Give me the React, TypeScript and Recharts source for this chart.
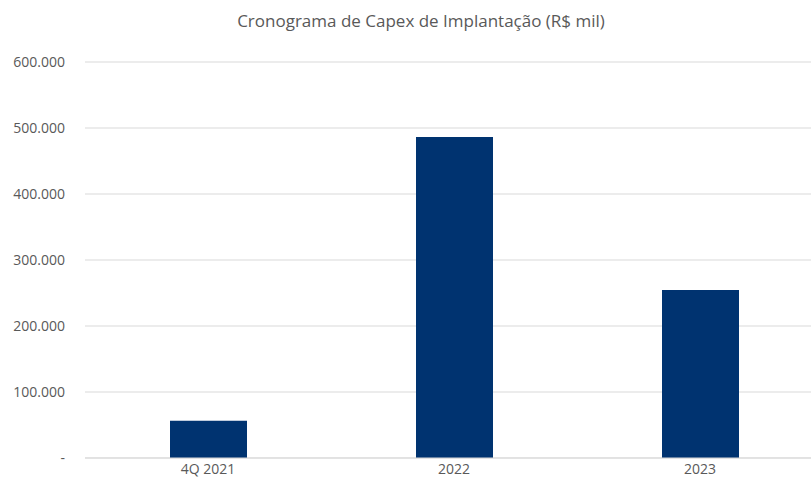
import { BarChart, Bar, XAxis, YAxis, CartesianGrid } from "recharts"

const categories = ["4Q 2021", "2022", "2023"]
const capex = [56500, 486500, 254500]
const yTicks = [0, 100000, 200000, 300000, 400000, 500000, 600000]
const title = "Cronograma de Capex de Implantação (R$ mil)"

const data = categories.map((c, i) => ({ periodo: c, capex: capex[i] }))

const fmt = (v: number) =>
  v === 0 ? "-" : String(v).replace(/\B(?=(\d{3})+(?!\d))/g, ".")

const font = "'Open Sans', sans-serif"

export default function App() {
  return (
    <div
      style={{
        position: "absolute",
        left: 0,
        top: 0,
        width: 811,
        height: 488,
        overflow: "hidden",
        background: "#fff",
        fontFamily: font,
      }}
    >
      <div
        style={{
          position: "absolute",
          left: 0,
          width: 842,
          top: 9,
          textAlign: "center",
          fontSize: 17,
          color: "#595959",
          whiteSpace: "nowrap",
        }}
      >
        {title}
      </div>
      <BarChart
        width={823}
        height={488}
        data={data}
        margin={{ top: 62, right: 0, bottom: 0, left: 0 }}
        barSize={77}
      >
        <CartesianGrid vertical={false} stroke="#d9d9d9" strokeWidth={1} />
        <XAxis
          dataKey="periodo"
          height={30}
          axisLine={{ stroke: "#d9d9d9" }}
          tickLine={false}
          tickSize={0}
          tickMargin={6}
          tick={{ fill: "#595959", fontSize: 14, fontFamily: font }}
        />
        <YAxis
          width={85}
          domain={[0, 600000]}
          ticks={yTicks}
          tickFormatter={fmt}
          axisLine={false}
          tickLine={false}
          tickSize={0}
          tickMargin={20}
          tick={{ fill: "#595959", fontSize: 14, fontFamily: font }}
        />
        <Bar dataKey="capex" fill="#003370" isAnimationActive={false} />
      </BarChart>
    </div>
  )
}
